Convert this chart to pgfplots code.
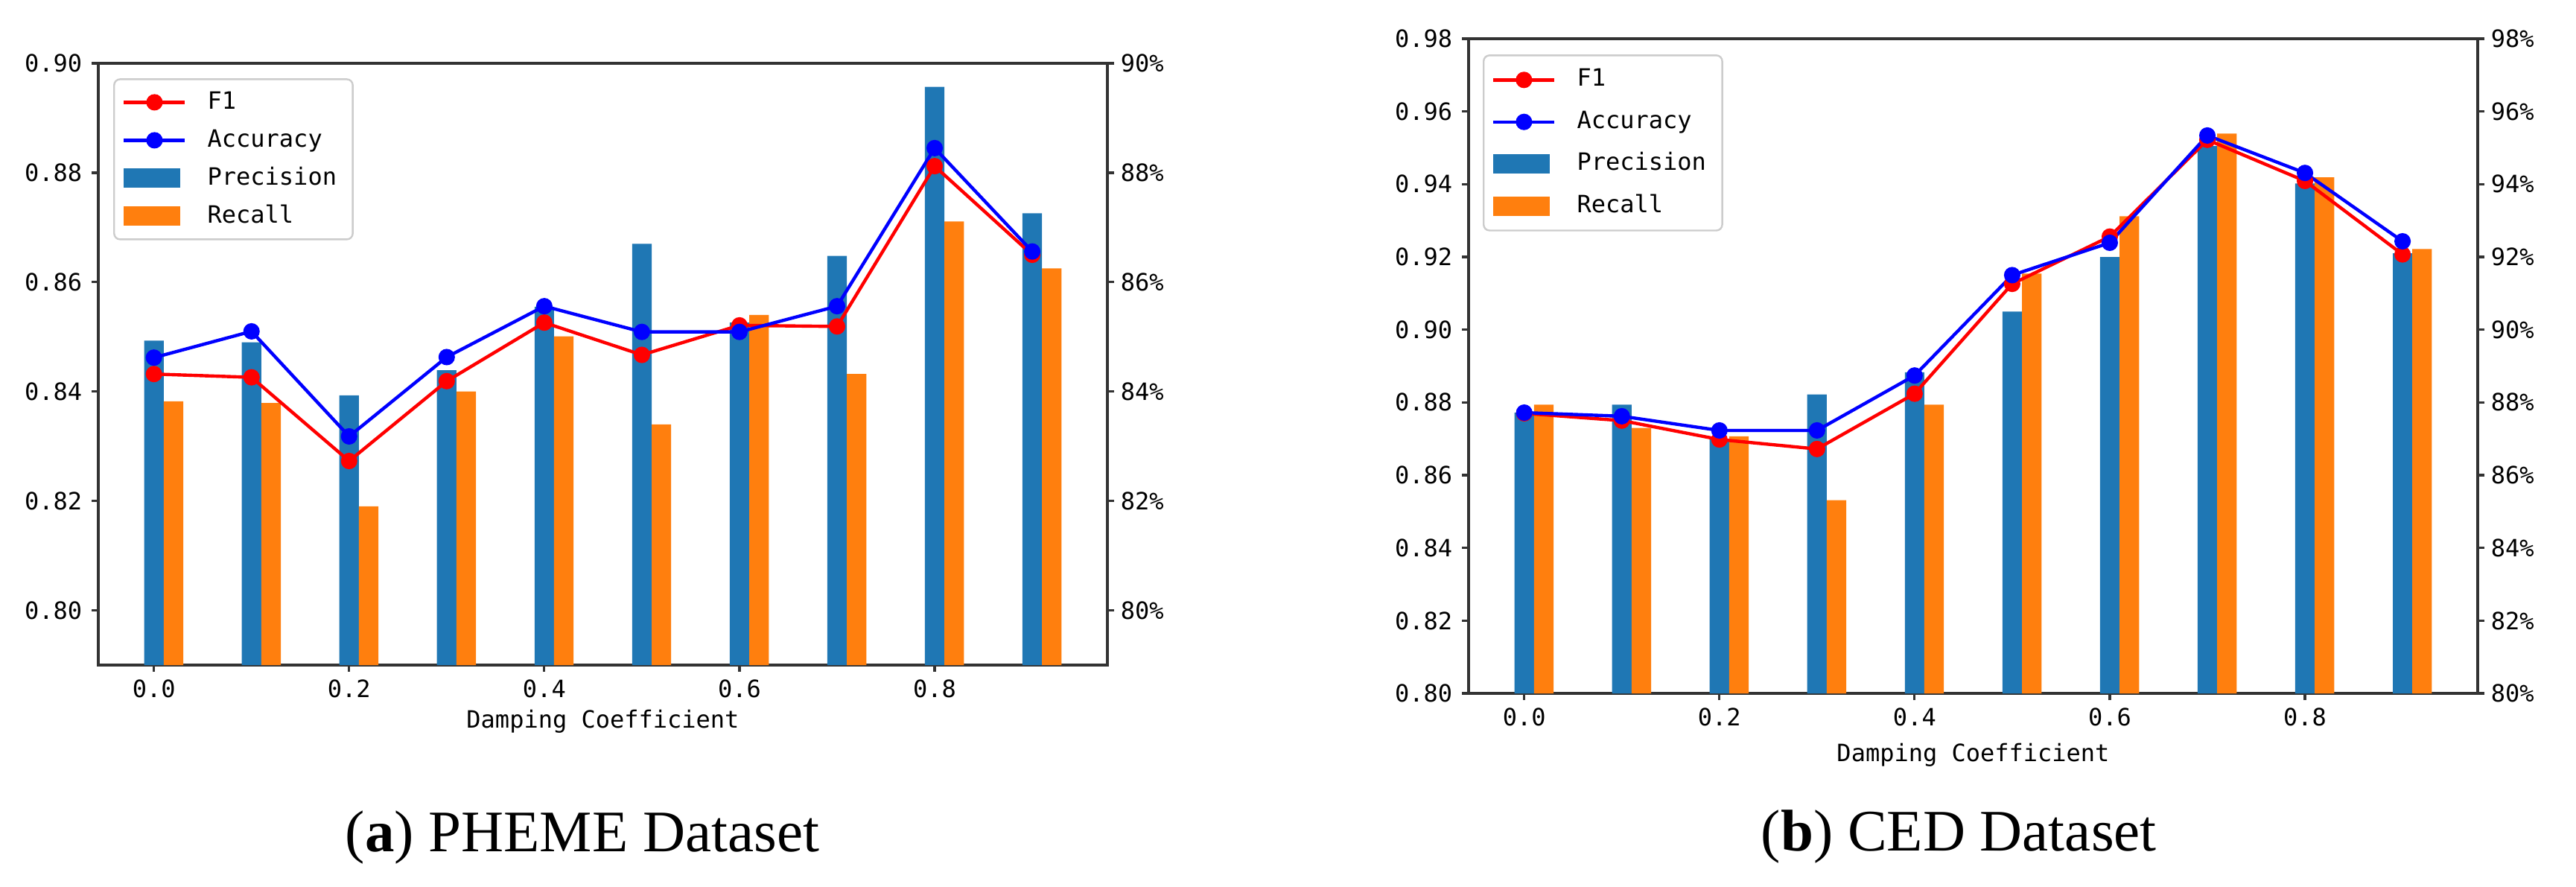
\documentclass[border=0pt]{standalone}
\usepackage{fontspec}
\setmainfont{Liberation Serif}
\newfontfamily\monofont{DejaVu Sans Mono}
\usepackage{pgfplots}
\usepackage{pgfplotstable}
\pgfplotsset{compat=1.18}
\definecolor{tabblue}{HTML}{1F77B4}
\definecolor{taborange}{HTML}{FF7F0E}
\newcommand\cf{\monofont\fontsize{8pt}{9.6pt}\selectfont}

\pgfplotstableread{
x prec rec f1 acc
0.0 0.8493 0.8382 0.8432 0.8462
0.1 0.8490 0.8379 0.8426 0.8510
0.2 0.8393 0.8190 0.8273 0.8318
0.3 0.8439 0.8400 0.8419 0.8463
0.4 0.8555 0.8501 0.8526 0.8556
0.5 0.8670 0.8340 0.8467 0.8509
0.6 0.8526 0.8540 0.8521 0.8509
0.7 0.8648 0.8432 0.8519 0.8556
0.8 0.8957 0.8711 0.8812 0.8845
0.9 0.8726 0.8625 0.8650 0.8656
}\dataA

\pgfplotstableread{
x prec rec f1 acc
0.0 0.8772 0.8794 0.8770 0.8772
0.1 0.8794 0.8730 0.8750 0.8762
0.2 0.8700 0.8707 0.8698 0.8723
0.3 0.8822 0.8531 0.8672 0.8723
0.4 0.8883 0.8794 0.8824 0.8874
0.5 0.9050 0.9154 0.9126 0.9150
0.6 0.9200 0.9312 0.9256 0.9239
0.7 0.9505 0.9539 0.9522 0.9534
0.8 0.9402 0.9419 0.9409 0.9431
0.9 0.9210 0.9222 0.9207 0.9243
}\dataB

\pgfplotsset{
  barlegend/.style={legend image code/.code={\fill[##1, draw=none, sharp corners] (0pt,-3.25pt) rectangle (19pt,3.25pt);}},
  linelegend/.style={legend image code/.code={\draw[mark repeat=2,mark phase=2,sharp corners,##1] plot coordinates {(0pt,0pt) (10.25pt,0pt) (20.5pt,0pt)};}},
  f1style/.style={red, line width=1.1pt, mark=*, mark size=2.2pt, mark options={solid, fill=red, draw=red}},
  accstyle/.style={blue, line width=1.1pt, mark=*, mark size=2.2pt, mark options={solid, fill=blue, draw=blue}},
  common/.style={
    scale only axis, width=338.75pt, anchor=south west,
    xmin=-0.057, xmax=0.977,
    axis line style={black!80, line width=0.8pt},
    tick align=outside, major tick length=2.25pt,
    tick style={black!80, line width=0.8pt},
    ticklabel style={font=\cf, text=black},
  },
  mainax/.style={
    common,
    xtick={0,0.2,0.4,0.6,0.8}, xticklabels={0.0,0.2,0.4,0.6,0.8},
    xtick pos=left, ytick pos=left,
    xticklabel style={inner sep=0pt, yshift=-2.5pt},
    yticklabel style={inner sep=0pt, xshift=-3pt},
    xlabel={Damping Coefficient},
    xlabel style={font=\cf, at={(axis description cs:0.5,0)}, anchor=base, inner sep=0pt},
    legend cell align=left,
  },
  rightax/.style={
    common,
    axis x line=none, axis y line*=right,
    yticklabel style={inner sep=0pt, xshift=2pt},
  },
}

\begin{document}
\begin{tikzpicture}
\useasboundingbox (0,0) rectangle (864.75pt,-297.5pt);

% ---------- (a) PHEME ----------
\begin{axis}[mainax, at={(33pt,-223.25pt)}, height=202pt,
  ymin=0.79, ymax=0.90,
  ytick={0.80,0.82,0.84,0.86,0.88,0.90},
  yticklabels={0.80,0.82,0.84,0.86,0.88,0.90},
  xlabel style={yshift=-21pt},
  legend style={at={(0.0148,0.975)}, anchor=north west, draw=black!20, line width=0.6pt,
    rounded corners=2pt, fill=white, inner xsep=2.75pt, inner ysep=4pt,
    row sep=5.25pt, column sep=7pt, font=\cf,
    nodes={inner sep=0pt, text height=5.9pt, text depth=1.6pt}},
]
\addlegendimage{linelegend, f1style}
\addlegendentry{\makebox[46pt][l]{F1}}
\addlegendimage{linelegend, accstyle}
\addlegendentry{\makebox[46pt][l]{Accuracy}}
\addlegendimage{barlegend, fill=tabblue}
\addlegendentry{\makebox[46pt][l]{Precision}}
\addlegendimage{barlegend, fill=taborange}
\addlegendentry{\makebox[46pt][l]{Recall}}
\addplot[forget plot, ybar, bar width=0.02, bar shift=0, fill=tabblue, draw=none] table[x=x, y=prec] {\dataA};
\addplot[forget plot, ybar, bar width=0.02, bar shift=0.02, fill=taborange, draw=none] table[x=x, y=rec] {\dataA};
\addplot[forget plot, f1style] table[x=x, y=f1] {\dataA};
\addplot[forget plot, accstyle] table[x=x, y=acc] {\dataA};
\end{axis}
\begin{axis}[rightax, at={(33pt,-223.25pt)}, height=202pt,
  ymin=0.79, ymax=0.90,
  ytick={0.80,0.82,0.84,0.86,0.88,0.90},
  yticklabels={80\%,82\%,84\%,86\%,88\%,90\%},
]
\end{axis}

% ---------- (b) CED ----------
\begin{axis}[mainax, at={(493pt,-232.75pt)}, height=219.75pt,
  ymin=0.80, ymax=0.98,
  ytick={0.80,0.82,0.84,0.86,0.88,0.90,0.92,0.94,0.96,0.98},
  yticklabels={0.80,0.82,0.84,0.86,0.88,0.90,0.92,0.94,0.96,0.98},
  xlabel style={yshift=-22.75pt},
  legend style={at={(0.014,0.976)}, anchor=north west, draw=black!20, line width=0.6pt,
    rounded corners=2pt, fill=white, inner xsep=2.75pt, inner ysep=4.5pt,
    row sep=6.6pt, column sep=7pt, font=\cf,
    nodes={inner sep=0pt, text height=5.9pt, text depth=1.6pt}},
]
\addlegendimage{linelegend, f1style}
\addlegendentry{\makebox[46pt][l]{F1}}
\addlegendimage{linelegend, accstyle}
\addlegendentry{\makebox[46pt][l]{Accuracy}}
\addlegendimage{barlegend, fill=tabblue}
\addlegendentry{\makebox[46pt][l]{Precision}}
\addlegendimage{barlegend, fill=taborange}
\addlegendentry{\makebox[46pt][l]{Recall}}
\addplot[forget plot, ybar, bar width=0.02, bar shift=0, fill=tabblue, draw=none] table[x=x, y=prec] {\dataB};
\addplot[forget plot, ybar, bar width=0.02, bar shift=0.02, fill=taborange, draw=none] table[x=x, y=rec] {\dataB};
\addplot[forget plot, f1style] table[x=x, y=f1] {\dataB};
\addplot[forget plot, accstyle] table[x=x, y=acc] {\dataB};
\end{axis}
\begin{axis}[rightax, at={(493pt,-232.75pt)}, height=219.75pt,
  ymin=0.80, ymax=0.98,
  ytick={0.80,0.82,0.84,0.86,0.88,0.90,0.92,0.94,0.96,0.98},
  yticklabels={80\%,82\%,84\%,86\%,88\%,90\%,92\%,94\%,96\%,98\%},
]
\end{axis}

% ---------- captions ----------
\node[anchor=base west, inner sep=0pt, font=\fontsize{19.75pt}{23pt}\selectfont] at (115.75pt,-285.75pt) {(\textbf{a}) PHEME Dataset};
\node[anchor=base west, inner sep=0pt, font=\fontsize{19.75pt}{23pt}\selectfont] at (591pt,-285.5pt) {(\textbf{b}) CED Dataset};
\end{tikzpicture}
\end{document}
